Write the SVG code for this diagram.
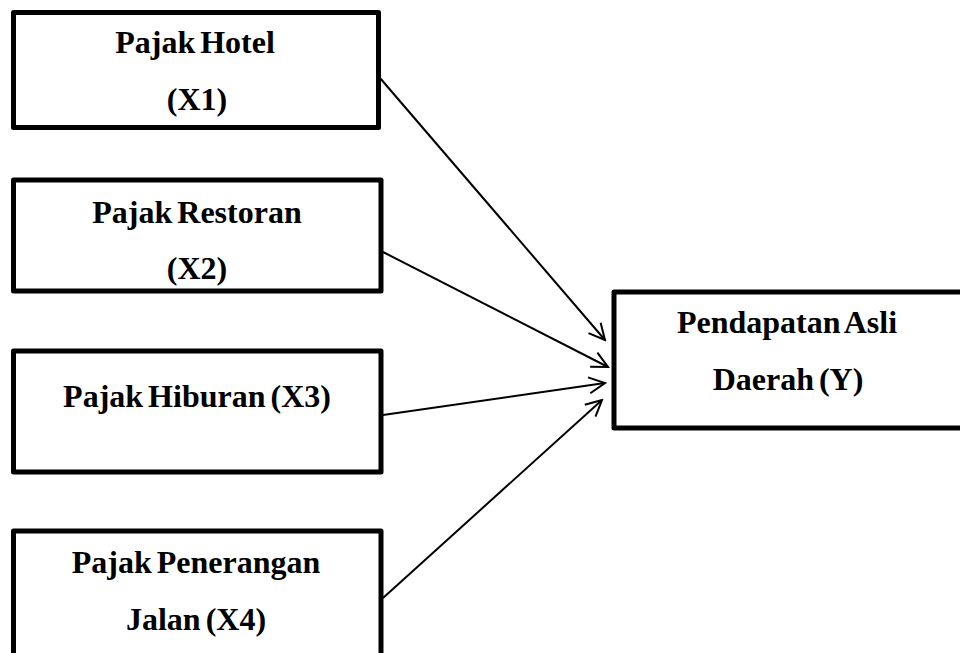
<svg xmlns="http://www.w3.org/2000/svg" width="960" height="653" viewBox="0 0 960 653">
<style>
.box{fill:#fff;stroke:#000;stroke-width:5;stroke-linejoin:round}
.t{font-family:"Liberation Serif","Times New Roman",serif;font-weight:bold;font-size:32px;word-spacing:-3px;fill:#000;text-anchor:middle}
.c{stroke:#000;stroke-width:2;fill:none}
</style>
<defs>
<marker id="arr" viewBox="0 0 20 20" refX="18" refY="10" markerWidth="20" markerHeight="20" markerUnits="userSpaceOnUse" orient="auto">
<path d="M2,2 L18,10 L2,18" fill="none" stroke="#000" stroke-width="2"/>
</marker>
</defs>
<rect width="960" height="653" fill="#fff"/>
<g id="x1">
<rect class="box" x="13.5" y="12.5" width="365" height="115"/>
<text class="t" x="195" y="53">Pajak Hotel</text>
<text class="t" x="197" y="110">(X1)</text>
</g>
<g id="x2">
<rect class="box" x="13.5" y="180" width="367.5" height="111"/>
<text class="t" x="197" y="223">Pajak Restoran</text>
<text class="t" x="197" y="279">(X2)</text>
</g>
<g id="x3">
<rect class="box" x="13.5" y="351" width="367.5" height="121"/>
<text class="t" x="197" y="407">Pajak Hiburan (X3)</text>
</g>
<g id="x4">
<rect class="box" x="13.5" y="531" width="367.5" height="135"/>
<text class="t" x="196" y="573">Pajak Penerangan</text>
<text class="t" x="196" y="630">Jalan (X4)</text>
</g>
<g id="y">
<rect class="box" x="614" y="292" width="352" height="136"/>
<text class="t" x="787" y="333">Pendapatan Asli</text>
<text class="t" x="788" y="390">Daerah (Y)</text>
</g>
<g id="connectors">
<line class="c" x1="380" y1="78" x2="605" y2="340" marker-end="url(#arr)"/>
<line class="c" x1="383" y1="252" x2="608" y2="367" marker-end="url(#arr)"/>
<line class="c" x1="383" y1="415" x2="605" y2="383" marker-end="url(#arr)"/>
<line class="c" x1="383" y1="598" x2="602" y2="400" marker-end="url(#arr)"/>
</g>
</svg>
